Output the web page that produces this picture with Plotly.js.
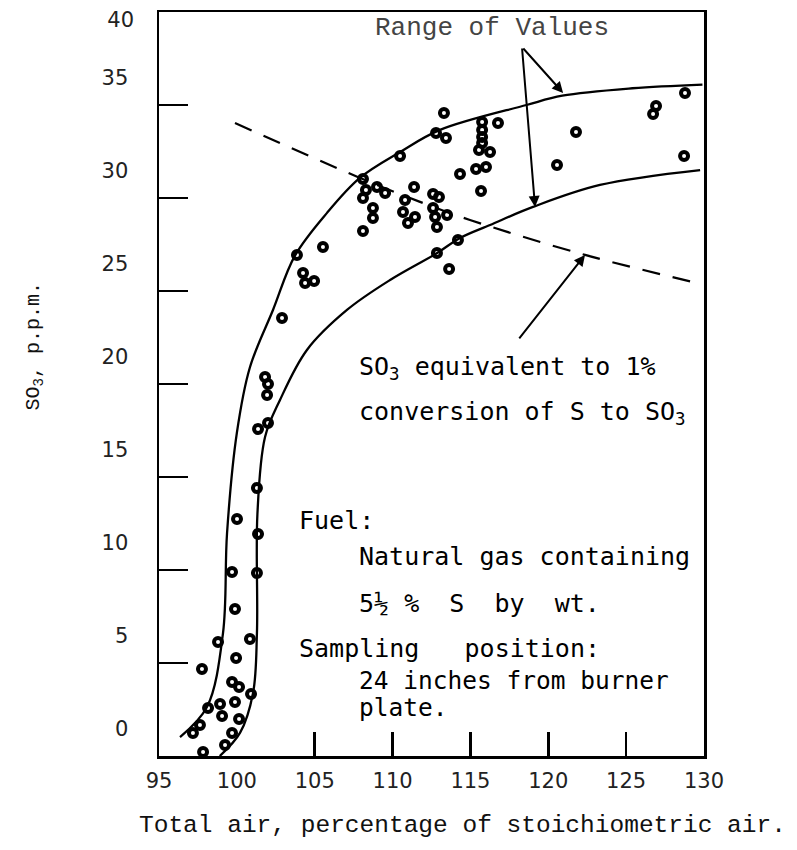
<!DOCTYPE html>
<html>
<head>
<meta charset="utf-8">
<script src="https://cdn.plot.ly/plotly-3.0.1.min.js"></script>
<style>html,body{margin:0;padding:0;background:#fff;}#chart{width:797px;height:850px;}</style>
</head>
<body>
<div id="chart"></div>
<script>
// Measured SO3 values (total air %, SO3 p.p.m.)
const pointsX = [113.30,112.79,113.43,115.75,115.75,115.75,115.75,115.55,116.77,116.26,110.48,114.33,115.36,116.00,115.68,
  108.10,108.29,108.10,109.00,109.52,108.74,108.74,108.10,111.38,110.80,110.67,111.44,110.99,112.60,112.98,112.60,112.73,112.85,113.50,
  105.53,114.20,112.85,113.63,121.78,120.56,128.78,126.92,126.73,128.72,
  103.86,104.25,104.38,104.96,102.90,101.81,102.00,101.94,102.00,101.36,101.29,100.01,101.36,
  99.69,101.29,99.88,98.79,100.84,99.95,97.76,99.69,100.14,100.91,99.88,98.92,98.15,99.05,100.14,97.63,97.18,99.69,99.24,97.83];
const pointsY = [34.57,33.49,33.23,34.09,33.66,33.28,32.96,32.58,34.03,32.47,32.26,31.29,31.56,31.67,30.38,
  31.02,30.43,30.00,30.59,30.27,29.46,28.92,28.23,30.59,29.89,29.25,28.98,28.66,30.22,30.05,29.46,28.98,28.44,29.09,
  27.37,27.74,27.04,26.18,33.55,31.77,35.65,34.95,34.52,32.26,
  26.94,25.97,25.43,25.54,23.55,20.38,20.00,19.41,17.90,17.58,14.41,12.74,11.94,
  9.89,9.84,7.90,6.13,6.29,5.27,4.68,3.98,3.71,3.33,2.90,2.80,2.58,2.15,1.99,1.67,1.24,1.24,0.59,0.22];

// Upper boundary of the range of values
const upperX = [96.35,98.08,99.11,99.37,100.0,100.84,102.32,103.73,105.79,107.9,110.48,113.05,118.6,120.9,125.4,129.9];
const upperY = [1.02,2.63,6.61,11.99,17.37,20.9,23.98,26.9,29.2,31.08,32.47,33.66,35.0,35.5,35.9,36.1];
// Lower boundary of the range of values
const lowerX = [98.9,100.2,101.04,101.29,101.32,101.81,102.77,104.5,107.07,109.84,112.86,114.33,116.26,119.02,123.32,129.75];
const lowerY = [0.0,1.24,3.39,6.61,13.0,17.15,19.14,21.83,23.98,25.59,27.04,27.85,28.55,29.52,30.7,31.5];
// SO3 equivalent to 1% conversion of S to SO3
const equivX = [99.88,107.91,111.96,114.97,122.36,129.55];
const equivY = [34.03,31.08,29.73,28.82,26.94,25.43];

const xTickVals = [95,100,105,110,115,120,125,130];
const xTickText = ['95','100','105','110','115','120','125','130'];
const xMarkVals = [105,110,115,120,125];
const yMarkVals = [5,10,15,20,25,30,35];
const yLabelVals = [0,5,10,15,20,25,30,35];
const yTopVals = [40];

const hand = 'DejaVu Sans Mono, monospace';
const typew = 'Liberation Mono, Courier New, monospace';
const numFont = {family: 'DejaVu Sans, sans-serif', size: 21, color: '#222'};

const traces = [
  {x: upperX, y: upperY, mode: 'lines', line: {color: '#000', width: 2.3, shape: 'spline', smoothing: 1.0}, hoverinfo: 'skip'},
  {x: lowerX, y: lowerY, yaxis: 'y2', mode: 'lines', line: {color: '#000', width: 2.3, shape: 'spline', smoothing: 1.0}, hoverinfo: 'skip'},
  {x: equivX, y: equivY, xaxis: 'x2', mode: 'lines', line: {color: '#000', width: 2.2, dash: '18px,13px', shape: 'spline'}, hoverinfo: 'skip'},
  {x: pointsX, y: pointsY, mode: 'markers', marker: {symbol: 'circle-open', size: 8, color: '#000', line: {width: 4, color: '#000'}}}
];

const layout = {
  width: 797, height: 850,
  margin: {l: 159, r: 93, t: 12, b: 94},
  paper_bgcolor: '#fff', plot_bgcolor: '#fff',
  showlegend: false,
  xaxis: {
    range: [95, 130], tickvals: xTickVals, ticktext: xTickText,
    ticks: '', showgrid: false, zeroline: false,
    showline: true, mirror: true, linecolor: '#000', linewidth: 2.5,
    tickfont: numFont, ticklabelstandoff: 4
  },
  xaxis2: {
    overlaying: 'x', anchor: 'y', side: 'bottom',
    range: [95, 130], tickvals: xMarkVals, ticks: 'inside', ticklen: 24, tickwidth: 2.5, tickcolor: '#000',
    showticklabels: false, showgrid: false, zeroline: false, showline: false
  },
  yaxis: {
    range: [0, 40], tickvals: yLabelVals,
    ticks: '', showgrid: false, zeroline: false,
    showline: true, mirror: true, linecolor: '#000', linewidth: 2.5,
    tickfont: numFont, ticklabelstandoff: 24, ticklabelshift: -27
  },
  yaxis2: {
    overlaying: 'y', anchor: 'x', side: 'left',
    range: [0, 40], tickvals: yTopVals.concat(yMarkVals),
    ticktext: yTopVals.map(String).concat(yMarkVals.map(() => '')),
    ticks: 'inside', ticklen: 29, tickwidth: 2.5, tickcolor: '#000',
    showgrid: false, zeroline: false, showline: false,
    tickfont: numFont, ticklabelstandoff: 24, ticklabelshift: 8
  },
  annotations: [
    {xref: 'paper', yref: 'paper', x: 0.556, y: -0.094, text: 'Total air, percentage of stoichiometric air.', showarrow: false,
     font: {family: typew, size: 24.5, color: '#111'}, xanchor: 'center', yanchor: 'middle'},
    {xref: 'paper', yref: 'paper', x: -0.228, y: 0.55, text: 'SO<sub>3</sub>, p.p.m.', showarrow: false, textangle: -90,
     font: {family: typew, size: 20, color: '#111'}, xanchor: 'center', yanchor: 'middle'},
    {xref: 'paper', yref: 'paper', x: 0.611, y: 0.979, text: 'Range of Values', showarrow: false,
     font: {family: typew, size: 26, color: '#444'}, xanchor: 'center', yanchor: 'middle'},
    // arrows
    {x: 120.95, y: 35.65, ax: 118.31, ay: 38.12, xref: 'x', yref: 'y', axref: 'x', ayref: 'y', text: '', showarrow: true,
     arrowhead: 2, arrowsize: 1.1, arrowwidth: 2, arrowcolor: '#000'},
    {x: 119.15, y: 29.52, ax: 118.31, ay: 38.12, xref: 'x', yref: 'y', axref: 'x', ayref: 'y', text: '', showarrow: true,
     arrowhead: 2, arrowsize: 1.1, arrowwidth: 2, arrowcolor: '#000'},
    {x: 122.36, y: 26.94, ax: 118.06, ay: 22.37, xref: 'x', yref: 'y', axref: 'x', ayref: 'y', text: '', showarrow: true,
     arrowhead: 2, arrowsize: 1.1, arrowwidth: 2, arrowcolor: '#000'},
    // handwritten notes
    {xref: 'paper', yref: 'paper', x: 0.363, y: 0.5215, text: 'SO<sub>3</sub> equivalent to 1%', showarrow: false,
     font: {family: hand, size: 25, color: '#000'}, xanchor: 'left', yanchor: 'middle'},
    {xref: 'paper', yref: 'paper', x: 0.363, y: 0.461, text: 'conversion of S to SO<sub>3</sub>', showarrow: false,
     font: {family: hand, size: 25, color: '#000'}, xanchor: 'left', yanchor: 'middle'},
    {xref: 'paper', yref: 'paper', x: 0.253, y: 0.317, text: 'Fuel:', showarrow: false,
     font: {family: hand, size: 25, color: '#000'}, xanchor: 'left', yanchor: 'middle'},
    {xref: 'paper', yref: 'paper', x: 0.363, y: 0.2675, text: 'Natural gas containing', showarrow: false,
     font: {family: hand, size: 25, color: '#000'}, xanchor: 'left', yanchor: 'middle'},
    {xref: 'paper', yref: 'paper', x: 0.363, y: 0.2056, text: '5½ %  S  by  wt.', showarrow: false,
     font: {family: hand, size: 25, color: '#000'}, xanchor: 'left', yanchor: 'middle'},
    {xref: 'paper', yref: 'paper', x: 0.253, y: 0.145, text: 'Sampling   position:', showarrow: false,
     font: {family: hand, size: 25, color: '#000'}, xanchor: 'left', yanchor: 'middle'},
    {xref: 'paper', yref: 'paper', x: 0.363, y: 0.102, text: '24 inches from burner', showarrow: false,
     font: {family: hand, size: 24.5, color: '#000'}, xanchor: 'left', yanchor: 'middle'},
    {xref: 'paper', yref: 'paper', x: 0.363, y: 0.065, text: 'plate.', showarrow: false,
     font: {family: hand, size: 24.5, color: '#000'}, xanchor: 'left', yanchor: 'middle'}
  ]
};

Plotly.newPlot('chart', traces, layout, {staticPlot: true, displayModeBar: false});
</script>
</body>
</html>
